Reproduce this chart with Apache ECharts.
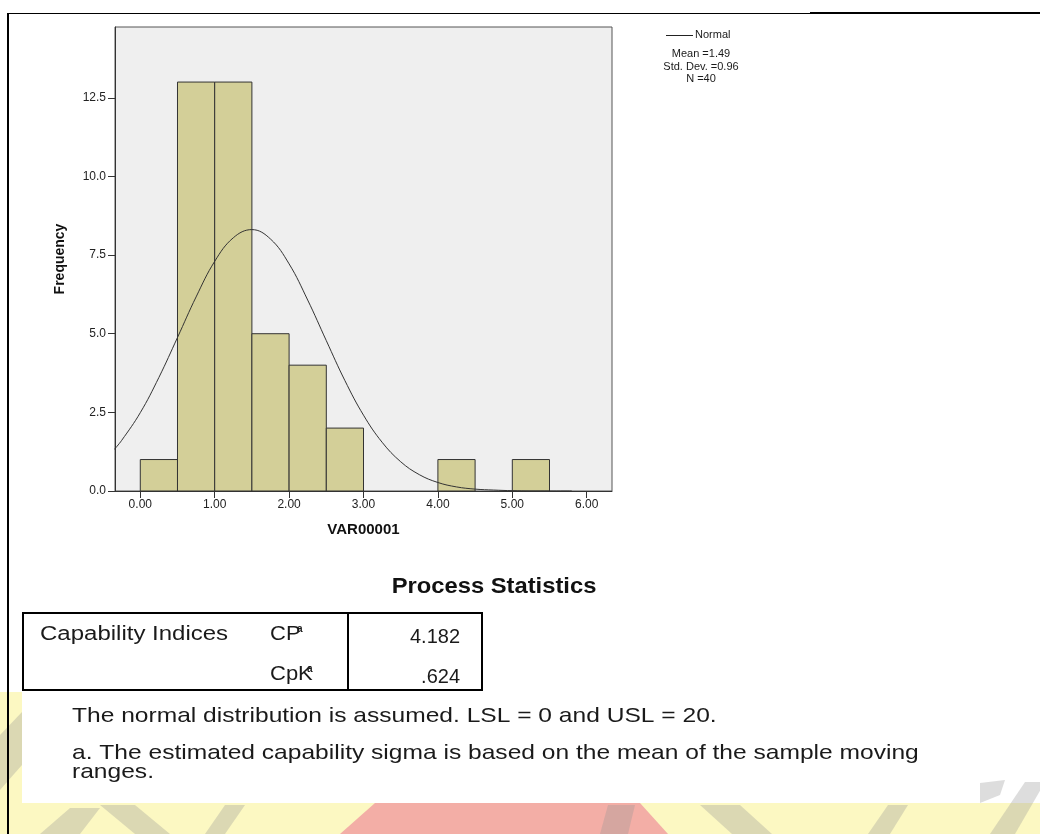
<!DOCTYPE html>
<html>
<head>
<meta charset="utf-8">
<script src="https://cdn.jsdelivr.net/npm/echarts@6/dist/echarts.min.js"></script>
<style>
  html, body { margin: 0; padding: 0; background: #fff; }
  #main { width: 1040px; height: 834px; }
</style>
</head>
<body>
<div id="main"></div>
<script>
// histogram bins of VAR00001 (lower edge, upper edge, count)
const binStart = [0, 0.5, 1.0, 1.5, 2.0, 2.5, 4.0, 5.0];
const binEnd = [0.5, 1.0, 1.5, 2.0, 2.5, 3.0, 4.5, 5.5];
const binCount = [1, 13, 13, 5, 4, 2, 1, 1];

// normal curve
const curveX = [-0.35, -0.25, 0, 0.25, 0.5, 0.75, 1.0, 1.25, 1.5, 1.75, 2.0, 2.25, 2.5,
  2.75, 3.0, 3.25, 3.5, 3.75, 4.0, 4.25, 4.5, 4.75, 5.0, 5.25, 5.5, 5.8];
const curveY = [1.32, 1.61, 2.49, 3.61, 4.88, 6.17, 7.3, 8.05, 8.31, 8.01, 7.22, 6.07, 4.78,
  3.51, 2.41, 1.55, 0.93, 0.52, 0.27, 0.13, 0.06, 0.03, 0.01, 0, 0, 0];

const xTicks = [0, 1, 2, 3, 4, 5, 6];
const yTicks = [0, 2.5, 5, 7.5, 10, 12.5];

const statLines = ["Mean =1.49", "Std. Dev. =0.96", "N =40"];
const capNames = ["CP", "CpK"];
const capValues = ["4.182", ".624"];

const font = "Liberation Sans, Arial, sans-serif";

function renderBin(params, api) {
  let p0 = api.coord([api.value(0), api.value(2)]);
  let p1 = api.coord([api.value(1), 0]);
  return {
    type: "rect",
    shape: { x: p0[0], y: p0[1], width: p1[0] - p0[0], height: p1[1] - p0[1] },
    style: { fill: "#d3cf98", stroke: "#333", lineWidth: 1 }
  };
}

function txt(x, y, text, size, opts) {
  opts = opts || {};
  return {
    type: "text",
    x: x,
    y: y,
    z: 20,
    scaleX: opts.scaleX || 1,
    style: {
      text: text,
      font: (opts.bold ? "bold " : "") + size + "px " + font,
      fill: opts.color || "#1a1a1a",
      align: opts.align || "left",
      verticalAlign: "middle"
    }
  };
}

function poly(points, fill) {
  return { type: "polygon", z: 1, shape: { points: points }, style: { fill: fill } };
}

let chart = echarts.init(document.getElementById("main"));

// watermark behind the lower text block
const grey = "rgba(150,150,150,0.32)";
let graphics = [
  { type: "rect", z: 0, shape: { x: 0, y: 803, width: 1040, height: 31 }, style: { fill: "#fcf8c2" } },
  { type: "rect", z: 0, shape: { x: 0, y: 692, width: 22, height: 111 }, style: { fill: "#fcf8c2" } },
  poly([[340, 834], [375, 803], [640, 803], [668, 834]], "#f3aea6"),
  poly([[0, 735], [22, 712], [22, 765], [0, 790]], grey),
  poly([[40, 834], [70, 808], [100, 808], [80, 834]], grey),
  poly([[100, 805], [135, 805], [170, 834], [135, 834]], grey),
  poly([[205, 834], [225, 805], [245, 805], [225, 834]], grey),
  poly([[600, 834], [608, 805], [635, 805], [628, 834]], grey),
  poly([[700, 805], [740, 805], [772, 834], [732, 834]], grey),
  poly([[868, 834], [888, 805], [908, 805], [890, 834]], grey),
  poly([[990, 834], [1025, 782], [1045, 782], [1015, 834]], grey),
  poly([[980, 783], [1005, 780], [1000, 795], [980, 803]], grey),
  { type: "rect", z: 2, shape: { x: 22, y: 560, width: 958, height: 243 }, style: { fill: "#fff" } },

  // frame of the page
  { type: "line", z: 30, shape: { x1: 8, y1: 13, x2: 8, y2: 834 }, style: { stroke: "#000", lineWidth: 2 } },
  { type: "line", z: 30, shape: { x1: 8, y1: 13.5, x2: 810, y2: 13.5 }, style: { stroke: "#000", lineWidth: 1 } },
  { type: "line", z: 30, shape: { x1: 810, y1: 13, x2: 1040, y2: 13 }, style: { stroke: "#000", lineWidth: 2 } },

  // legend
  { type: "line", z: 20, shape: { x1: 666, y1: 35.5, x2: 693, y2: 35.5 }, style: { stroke: "#222", lineWidth: 1 } },
  txt(695, 35, "Normal", 11),
  txt(701, 54, statLines[0], 11, { align: "center" }),
  txt(701, 67, statLines[1], 11, { align: "center" }),
  txt(701, 79, statLines[2], 11, { align: "center" }),

  // process statistics table
  txt(494, 587, "Process Statistics", 22, { bold: true, align: "center", scaleX: 1.08, color: "#111" }),
  { type: "rect", z: 20, shape: { x: 23, y: 613, width: 459, height: 77 }, style: { fill: "none", stroke: "#000", lineWidth: 2 } },
  { type: "line", z: 20, shape: { x1: 348, y1: 613, x2: 348, y2: 690 }, style: { stroke: "#000", lineWidth: 2 } },
  txt(40, 634, "Capability Indices", 20, { scaleX: 1.2 }),
  txt(270, 634, capNames[0], 20, { scaleX: 1.1 }),
  txt(297, 629, "a", 10, { bold: true }),
  txt(270, 674, capNames[1], 20, { scaleX: 1.1 }),
  txt(307, 669, "a", 10, { bold: true }),
  txt(460, 637, capValues[0], 20, { align: "right" }),
  txt(460, 677, capValues[1], 20, { align: "right" }),

  // notes
  txt(72, 716, "The normal distribution is assumed. LSL = 0 and USL = 20.", 21, { scaleX: 1.17 }),
  txt(72, 753, "a. The estimated capability sigma is based on the mean of the sample moving", 21, { scaleX: 1.17 }),
  txt(72, 772, "ranges.", 21, { scaleX: 1.17 })
];

let option = {
  animation: false,
  grid: {
    left: 115,
    top: 27,
    width: 497,
    height: 464,
    show: true,
    backgroundColor: "#efefef",
    borderColor: "#555",
    borderWidth: 1
  },
  xAxis: {
    type: "value",
    min: -0.34,
    max: 6.34,
    name: "VAR00001",
    nameLocation: "middle",
    nameGap: 31,
    nameTextStyle: { fontWeight: "bold", fontSize: 15, color: "#111", fontFamily: font },
    axisLine: { show: true, onZero: false, lineStyle: { color: "#333" } },
    axisTick: { show: true, length: 7, customValues: xTicks, lineStyle: { color: "#333" } },
    axisLabel: {
      customValues: xTicks,
      formatter: v => v.toFixed(2),
      fontSize: 12,
      color: "#222",
      fontFamily: font,
      margin: 8
    },
    splitLine: { show: false }
  },
  yAxis: {
    type: "value",
    min: 0,
    max: 14.75,
    name: "Frequency",
    nameLocation: "middle",
    nameGap: 48,
    nameTextStyle: { fontWeight: "bold", fontSize: 14, color: "#111", fontFamily: font },
    axisLine: { show: true, onZero: false, lineStyle: { color: "#333" } },
    axisTick: { show: true, length: 7, customValues: yTicks, lineStyle: { color: "#333" } },
    axisLabel: {
      customValues: yTicks,
      formatter: v => v.toFixed(1),
      fontSize: 12,
      color: "#222",
      fontFamily: font,
      margin: 9
    },
    splitLine: { show: false }
  },
  series: [
    {
      name: "VAR00001",
      type: "custom",
      renderItem: renderBin,
      encode: { x: [0, 1], y: 2 },
      data: binStart.map((s, i) => [s, binEnd[i], binCount[i]]),
      z: 2
    },
    {
      name: "Normal",
      type: "line",
      smooth: 0.4,
      showSymbol: false,
      lineStyle: { color: "#333", width: 1 },
      data: curveX.map((x, i) => [x, curveY[i]]),
      z: 3
    }
  ],
  graphic: graphics
};
chart.setOption(option);
</script>
</body>
</html>
